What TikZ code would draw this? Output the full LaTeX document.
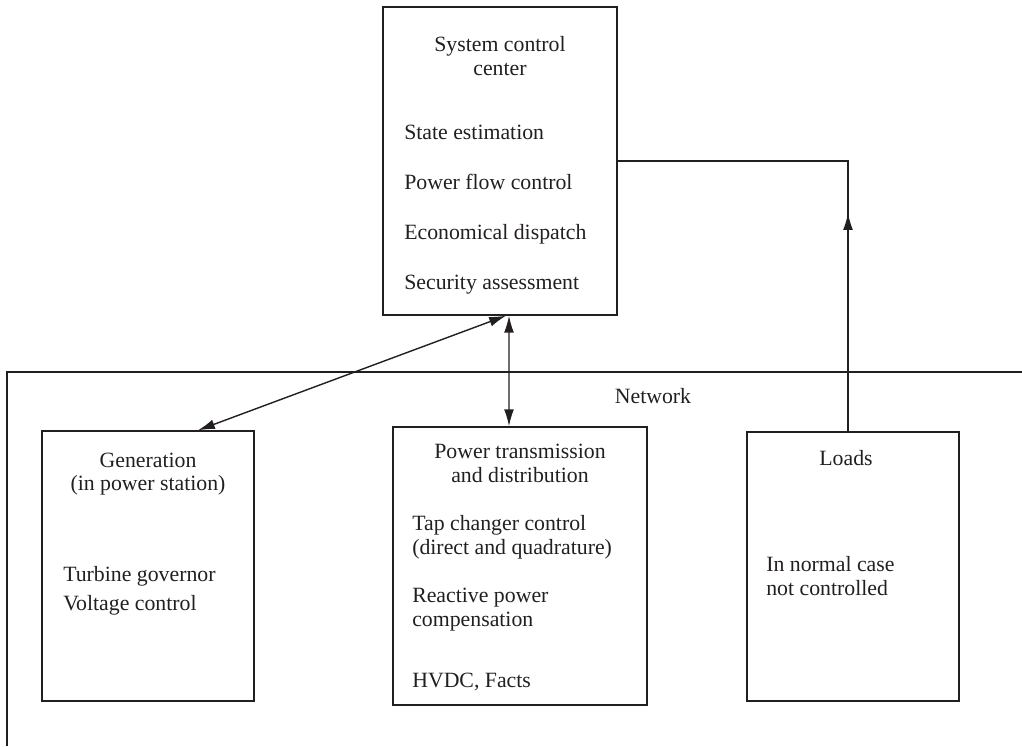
\documentclass[tikz,border=0pt]{standalone}
\usepackage{fontspec}
\setmainfont{Liberation Serif}
\usepackage{tikz}
\usetikzlibrary{arrows.meta, positioning}

\definecolor{ink}{HTML}{231F20}

\tikzset{
  blk/.style={draw=ink, line width=1pt, inner sep=0pt},
  txt/.style={text=ink, inner sep=0pt, font=\fontsize{15.5}{18}\selectfont},
  line/.style={draw=ink, line width=1pt},
  tip/.style={line, -{Latex[length=12pt, width=7pt]}},
  dtip/.style={line, {Latex[length=12pt, width=7pt]}-{Latex[length=12pt, width=7pt]}}
}

\begin{document}
\begin{tikzpicture}
  \useasboundingbox (0,0) rectangle (25.55,18.65);

  % boxes
  \node[blk, minimum width=5.85cm, minimum height=7.7cm] (ctrl) at (12.5,14.625) {};
  \node[blk, minimum width=5.3cm, minimum height=6.75cm] (gen) at (3.7,4.5) {};
  \node[blk, minimum width=6.35cm, minimum height=6.95cm] (trans) at (13.0,4.5) {};
  \node[blk, minimum width=5.3cm, minimum height=6.725cm] (loads) at (21.325,4.4875) {};

  % network border (open on the right and bottom)
  \draw[line] (25.55,9.35) -- (0.175,9.35) -- (0.175,0);
  \node[txt, anchor=base] (net) at (16.325,8.55) {Network};

  % control center
  \node[txt, anchor=base] (ctrl-t1) at (12.5,17.35) {System control};
  \node[txt, anchor=base] (ctrl-t2) at (12.5,16.75) {center};
  \foreach \t/\y [count=\i] in {State estimation/15.15, Power flow control/13.9,
      Economical dispatch/12.65, Security assessment/11.4}
    \node[txt, anchor=base west] (ctrl-\i) at (10.1,\y) {\t};

  % generation
  \node[txt, anchor=base] (gen-t1) at (3.7,6.95) {Generation};
  \node[txt, anchor=base] (gen-t2) at (3.7,6.375) {(in power station)};
  \node[txt, anchor=base west] (gen-1) at (1.575,4.1) {Turbine governor};
  \node[txt, anchor=base west] (gen-2) at (1.575,3.375) {Voltage control};

  % transmission and distribution
  \node[txt, anchor=base] (trans-t1) at (13.0,7.175) {Power transmission};
  \node[txt, anchor=base] (trans-t2) at (13.0,6.575) {and distribution};
  \foreach \t/\y [count=\i] in {Tap changer control/5.375, (direct and quadrature)/4.775,
      Reactive power/3.575, compensation/2.975, {HVDC, Facts}/1.45}
    \node[txt, anchor=base west] (trans-\i) at (10.3,\y) {\t};

  % loads
  \node[txt, anchor=base] (loads-t) at (21.15,7.0) {Loads};
  \node[txt, anchor=base west] (loads-1) at (19.15,4.35) {In normal case};
  \node[txt, anchor=base west] (loads-2) at (19.15,3.75) {not controlled};

  % connections
  \draw[dtip] ([xshift=0.15cm]ctrl.south) -- ([xshift=1.25cm]gen.north);
  \draw[dtip] ([xshift=0.225cm]ctrl.south) -- ([xshift=-0.275cm]trans.north);
  \coordinate (ldtip) at (21.2,13.325);
  \draw[line] ([xshift=-0.125cm]loads.north) |- (ctrl.east);
  \draw[tip] ([xshift=-0.125cm]loads.north) -- (ldtip);
\end{tikzpicture}
\end{document}
